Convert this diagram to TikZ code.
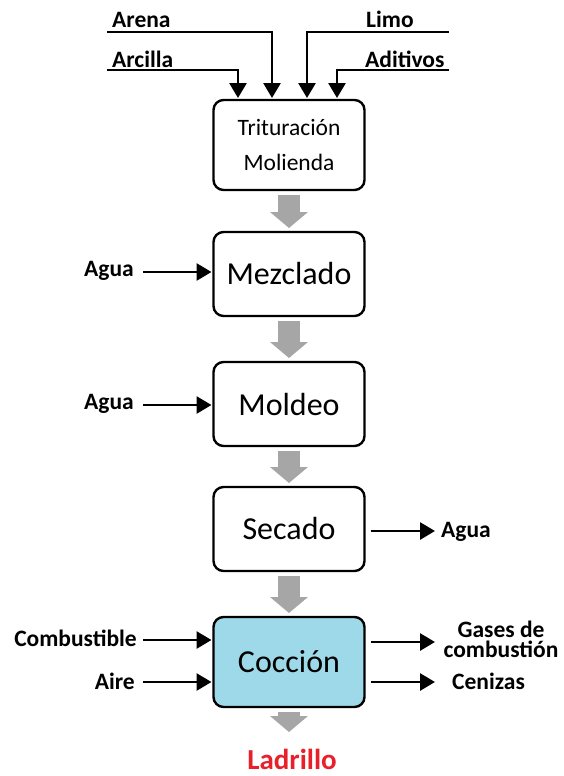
\documentclass[tikz,border=0pt]{standalone}
\usepackage{fontspec}
\setmainfont{Carlito}
\usetikzlibrary{arrows.meta}
\definecolor{boxblue}{HTML}{9DD9E8}
\definecolor{flowgray}{HTML}{A6A6A6}
\definecolor{brickred}{HTML}{E8202A}
\begin{document}
\begin{tikzpicture}[x=1pt,y=-1pt,
  proc/.style={draw=black, line width=2.4pt, rounded corners=10pt,
    minimum width=151pt, minimum height=84pt, inner sep=0pt, outer sep=0pt,
    font=\fontsize{32}{32}\selectfont},
  lbl/.style={font=\bfseries\fontsize{23.5}{23.5}\selectfont, inner sep=0pt},
  feed/.style={line width=2.8pt, -{Triangle[width=17pt,length=15pt]}},
  flow/.style={draw=flowgray, line width=22pt,
    -{Triangle[width=38pt,length=16pt,line width=0pt]},
    shorten <=5pt, shorten >=4pt}]
\useasboundingbox (0,0) rectangle (564,776);

% process boxes
\node[proc, minimum height=90pt, align=center,
      font=\fontsize{23.5}{35}\selectfont] (b1) at (289,145) {Trituración\\Molienda};
\node[proc] (b2) at (289,274) {Mezclado};
\node[proc] (b3) at (289,404) {Moldeo};
\node[proc] (b4) at (289,529) {Secado};
\node[proc, minimum height=90pt, fill=boxblue] (b5) at (289,662) {Cocción};
\node[lbl, anchor=base, text=brickred, font=\bfseries\fontsize{29}{29}\selectfont]
  (lad) at (292,769) {Ladrillo};

% main flow
\draw[flow] (b1) -- (b2);
\draw[flow] (b2) -- (b3);
\draw[flow] (b3) -- (b4);
\draw[flow] (b4) -- (b5);
\draw[flow] (b5) -- ([yshift=-29pt]b5.south);

% top inputs
\node[lbl, anchor=base west] (arena) at (112,28) {Arena};
\node[lbl, anchor=base west] (arcilla) at (112,67) {Arcilla};
\node[lbl, anchor=base west] (limo) at (366,28) {Limo};
\node[lbl, anchor=base west] (aditivos) at (365,67) {Aditivos};
\coordinate (arenaS) at (107,32);
\coordinate (arcillaS) at (107,70);
\coordinate (limoS) at (449,32);
\coordinate (aditivosS) at (449,70);
\draw[feed, shorten >=2pt] (arenaS) -| ([xshift=-17pt]b1.north);
\draw[feed, shorten >=2pt] (arcillaS) -| ([xshift=-51pt]b1.north);
\draw[feed, shorten >=2pt] (limoS) -| ([xshift=18pt]b1.north);
\draw[feed, shorten >=2pt] (aditivosS) -| ([xshift=48pt]b1.north);

% side inputs
\node[lbl, anchor=base east] (agua1) at (134,276) {Agua};
\coordinate (agua1S) at (143,272);
\draw[feed, shorten >=2pt] (agua1S) -- (agua1S -| b2.west);

\node[lbl, anchor=base east] (agua2) at (134,409) {Agua};
\coordinate (agua2S) at (143,405);
\draw[feed, shorten >=2pt] (agua2S) -- (agua2S -| b3.west);

\node[lbl, anchor=base west] (agua3) at (441,537) {Agua};
\coordinate (agua3E) at (435,531);
\draw[feed, shorten <=6pt] (agua3E -| b4.east) -- (agua3E);

\node[lbl, anchor=base east] (comb) at (137,646) {Combustible};
\coordinate (combS) at (143,640);
\draw[feed, shorten >=2pt] (combS) -- (combS -| b5.west);

\node[lbl, anchor=base east] (aire) at (135,689) {Aire};
\coordinate (aireS) at (143,682);
\draw[feed, shorten >=2pt] (aireS) -- (aireS -| b5.west);

\node[lbl, anchor=base, align=center, font=\bfseries\fontsize{23.5}{19.5}\selectfont]
  (gases) at (501,657) {Gases de\\combustión};
\coordinate (gasesE) at (435,642);
\draw[feed, shorten <=6pt] (gasesE -| b5.east) -- (gasesE);

\node[lbl, anchor=base west] (cen) at (452,689) {Cenizas};
\coordinate (cenE) at (435,682);
\draw[feed, shorten <=6pt] (cenE -| b5.east) -- (cenE);
\end{tikzpicture}
\end{document}
